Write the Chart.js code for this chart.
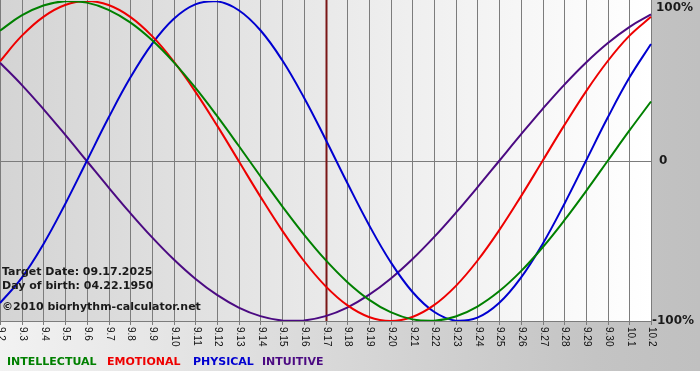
<!DOCTYPE html>
<html>
<head>
<meta charset="utf-8">
<style>
html,body{margin:0;padding:0;background:#fff;}
#wrap{width:700px;height:380px;}
</style>
<script src="https://cdn.jsdelivr.net/npm/chart.js@4/dist/chart.umd.min.js"></script>
</head>
<body>
<div id="wrap"><canvas id="c" width="700" height="380"></canvas></div>
<script>
// Day labels (Sept 2 .. Oct 2)
const dayLabels = ['9.2','9.3','9.4','9.5','9.6','9.7','9.8','9.9','9.10','9.11','9.12','9.13','9.14','9.15','9.16','9.17','9.18','9.19','9.20','9.21','9.22','9.23','9.24','9.25','9.26','9.27','9.28','9.29','9.30','10.1','10.2'];
const targetLabel = '9.17';
const yTickLabels = ['100%','0','-100%'];
const yTickValues = [1, 0, -1];
const seriesNames = ['INTELLECTUAL','EMOTIONAL','PHYSICAL','INTUITIVE'];
const infoLines = ['Target Date: 09.17.2025','Day of birth: 04.22.1950','\u00A92010 biorhythm-calculator.net'];

const intellectual = [0.8146,0.9096,0.9718,0.9989,0.9898,0.9450,0.8660,0.7557,0.6182,0.4582,0.2817,0.0951,-0.0951,-0.2817,-0.4582,-0.6182,-0.7557,-0.8660,-0.9450,-0.9898,-0.9989,-0.9718,-0.9096,-0.8146,-0.6901,-0.5406,-0.3717,-0.1893,0,0.1893,0.3717];
const emotional = [0.6235,0.7818,0.9010,0.9749,1,0.9749,0.9010,0.7818,0.6235,0.4339,0.2225,0,-0.2225,-0.4339,-0.6235,-0.7818,-0.9010,-0.9749,-1,-0.9749,-0.9010,-0.7818,-0.6235,-0.4339,-0.2225,0,0.2225,0.4339,0.6235,0.7818,0.9010];
const physical = [-0.8879,-0.7308,-0.5196,-0.2698,0,0.2698,0.5196,0.7308,0.8879,0.9791,0.9977,0.9423,0.8170,0.6311,0.3984,0.1362,-0.1362,-0.3984,-0.6311,-0.8170,-0.9423,-0.9977,-0.9791,-0.8879,-0.7308,-0.5196,-0.2698,0,0.2698,0.5196,0.7308];
const intuitive = [0.6142,0.4759,0.3247,0.1646,0,-0.1646,-0.3247,-0.4759,-0.6142,-0.7357,-0.8372,-0.9158,-0.9694,-0.9966,-0.9966,-0.9694,-0.9158,-0.8372,-0.7357,-0.6142,-0.4759,-0.3247,-0.1646,0,0.1646,0.3247,0.4759,0.6142,0.7357,0.8372,0.9158];

const colors = ['#008000','#ee0000','#0000d0','#4b0a82'];

const decor = {
  id:'decor',
  beforeDraw(chart){
    const ctx = chart.ctx, a = chart.chartArea;
    const xs = chart.scales.x, ys = chart.scales.y;
    ctx.save();
    // page background
    ctx.fillStyle = '#ffffff';
    ctx.fillRect(0,0,700,380);
    let g = ctx.createLinearGradient(0,0,700,0);
    g.addColorStop(0,'#f2f2f2');
    g.addColorStop(0.85,'#c4c4c4');
    g.addColorStop(1,'#c0c0c0');
    ctx.fillStyle = g;
    ctx.fillRect(0,0,700,371);
    // plot background
    g = ctx.createLinearGradient(a.left,0,a.right,0);
    g.addColorStop(0,'#d4d4d4');
    g.addColorStop(1,'#ffffff');
    ctx.fillStyle = g;
    ctx.fillRect(a.left,0,a.right-a.left,a.bottom);
    // vertical grid lines + ticks
    ctx.strokeStyle = '#7c7c7c';
    ctx.lineWidth = 1;
    dayLabels.forEach((lab,i)=>{
      const x = Math.round(xs.getPixelForValue(i))+0.5;
      ctx.beginPath();
      ctx.moveTo(x,0);
      ctx.lineTo(x,a.bottom+4);
      ctx.stroke();
    });
    // horizontal lines
    [0,-1].forEach(v=>{
      const y = Math.round(ys.getPixelForValue(v))+0.5;
      ctx.beginPath();
      ctx.moveTo(a.left,y);
      ctx.lineTo(a.right+1,y);
      ctx.stroke();
    });
    // target line
    const tx = Math.round(xs.getPixelForValue(dayLabels.indexOf(targetLabel)));
    ctx.strokeStyle = '#7a1616';
    ctx.lineWidth = 2;
    ctx.beginPath();
    ctx.moveTo(tx+0.5,0);
    ctx.lineTo(tx+0.5,a.bottom);
    ctx.stroke();
    // x tick labels, rotated clockwise
    ctx.fillStyle = '#111';
    ctx.font = '10px "Liberation Sans", Arial, sans-serif';
    ctx.textAlign = 'left';
    ctx.textBaseline = 'middle';
    dayLabels.forEach((lab,i)=>{
      const x = xs.getPixelForValue(i);
      ctx.save();
      ctx.translate(x+1, a.bottom+6);
      ctx.rotate(Math.PI/2);
      ctx.fillText(lab,0,0);
      ctx.restore();
    });
    // y labels on right
    ctx.fillStyle = '#1a1a1a';
    ctx.font = 'bold 12px "DejaVu Sans", Verdana, sans-serif';
    ctx.textAlign = 'left';
    ctx.textBaseline = 'middle';
    yTickLabels.forEach((lab,i)=>{
      let y = ys.getPixelForValue(yTickValues[i]);
      if (yTickValues[i] === 1) y += 7;
      const x = lab === '0' ? 659 : (lab === '100%' ? 656 : 652);
      ctx.fillText(lab, x, y);
    });
    ctx.restore();
  },
  afterDatasetsDraw(chart){
    const ctx = chart.ctx;
    ctx.save();
    ctx.font = 'bold 11px "DejaVu Sans", Verdana, sans-serif';
    ctx.textAlign = 'left';
    ctx.textBaseline = 'middle';
    ctx.fillStyle = '#1a1a1a';
    const ys = [272, 286, 307];
    infoLines.forEach((t,i)=>ctx.fillText(t, 2, ys[i]));
    // legend
    const lx = [7, 107, 193, 262];
    chart.data.datasets.forEach((ds,i)=>{
      ctx.fillStyle = ds.borderColor;
      ctx.fillText(ds.label, lx[i], 362);
    });
    ctx.restore();
  }
};

new Chart(document.getElementById('c'), {
  type:'line',
  data:{
    labels: dayLabels,
    datasets:[
      {label:seriesNames[0], data:intellectual, borderColor:colors[0]},
      {label:seriesNames[1], data:emotional, borderColor:colors[1]},
      {label:seriesNames[2], data:physical, borderColor:colors[2]},
      {label:seriesNames[3], data:intuitive, borderColor:colors[3]}
    ].map(d=>Object.assign(d,{borderWidth:2, pointRadius:0, tension:0.4, fill:false}))
  },
  plugins:[decor],
  options:{
    responsive:false,
    animation:false,
    devicePixelRatio:1,
    layout:{padding:{left:0, right:49, top:1, bottom:59}},
    plugins:{legend:{display:false}, tooltip:{enabled:false}},
    scales:{
      x:{display:false, offset:false},
      y:{display:false, min:-1, max:1}
    }
  }
});
</script>
</body>
</html>
